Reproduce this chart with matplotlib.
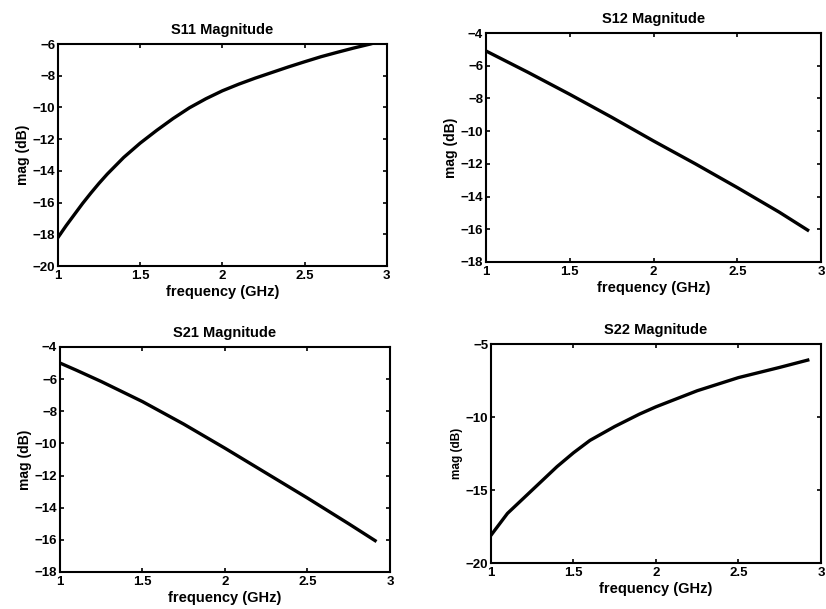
import matplotlib
matplotlib.use('Agg')
import matplotlib.pyplot as plt

plt.rcParams['font.family'] = ['Liberation Sans', 'DejaVu Sans']

# values
freq_s11 = [1.0, 1.05, 1.1, 1.15, 1.2, 1.25, 1.3, 1.4, 1.5, 1.6, 1.7, 1.8, 1.9,
            2.0, 2.1, 2.2, 2.3, 2.4, 2.5, 2.6, 2.7, 2.8, 2.9, 2.95]
mag_s11 = [-18.2, -17.45, -16.75, -16.05, -15.4, -14.78, -14.2, -13.15, -12.25,
           -11.45, -10.7, -10.02, -9.45, -8.95, -8.53, -8.15, -7.8, -7.45, -7.12,
           -6.8, -6.52, -6.25, -6.0, -5.85]

freq_s12 = [1.0, 1.25, 1.5, 1.75, 2.0, 2.25, 2.5, 2.75, 2.92]
mag_s12 = [-5.1, -6.4, -7.75, -9.15, -10.6, -12.0, -13.45, -14.95, -16.05]

freq_s21 = [1.0, 1.1, 1.25, 1.5, 1.75, 2.0, 2.25, 2.5, 2.75, 2.91]
mag_s21 = [-5.0, -5.45, -6.15, -7.4, -8.8, -10.3, -11.85, -13.4, -15.0, -16.05]

freq_s22 = [1.0, 1.1, 1.25, 1.4, 1.5, 1.6, 1.75, 1.9, 2.0, 2.25, 2.5, 2.75,
            2.92]
mag_s22 = [-18.1, -16.6, -15.0, -13.4, -12.45, -11.6, -10.65, -9.8, -9.3, -8.2,
           -7.3, -6.6, -6.1]

fig = plt.figure(figsize=(8.26, 6.09), dpi=100)


def panel(rect, x, y, title, ylim, yticks, ylabel_size=10):
    ax = fig.add_axes(rect)
    ax.plot(x, y, color='black', lw=2.4)
    ax.set_xlim(1, 3)
    ax.set_ylim(*ylim)
    ax.set_xticks([1, 1.5, 2, 2.5, 3])
    ax.set_xticklabels(['1', '1.5', '2', '2.5', '3'])
    ax.set_yticks(yticks)
    ax.set_yticklabels([str(t).replace('-', '\u2212') for t in yticks])
    ax.tick_params(direction='in', top=True, right=True, length=3, width=1.2,
                   labelsize=9.5, pad=2)
    ax.tick_params(axis='x', pad=3)
    for lbl in ax.get_xticklabels() + ax.get_yticklabels():
        lbl.set_fontweight('bold')
    for s in ax.spines.values():
        s.set_linewidth(1.5)
    ax.set_title(title, fontsize=10.5, fontweight='bold', pad=7)
    ax.set_xlabel('frequency (GHz)', fontsize=10.5, fontweight='bold', labelpad=2)
    ax.set_ylabel('mag (dB)', fontsize=ylabel_size, fontweight='bold', labelpad=2)
    return ax


panel([0.0702, 0.5632, 0.398, 0.3645], freq_s11, mag_s11, 'S11 Magnitude',
      (-20, -6), [-20, -18, -16, -14, -12, -10, -8, -6])
panel([0.5884, 0.5698, 0.4056, 0.376], freq_s12, mag_s12, 'S12 Magnitude',
      (-18, -4), [-18, -16, -14, -12, -10, -8, -6, -4])
panel([0.0726, 0.0608, 0.3995, 0.3695], freq_s21, mag_s21, 'S21 Magnitude',
      (-18, -4), [-18, -16, -14, -12, -10, -8, -6, -4])
panel([0.5944, 0.0755, 0.3995, 0.3596], freq_s22, mag_s22, 'S22 Magnitude',
      (-20, -5), [-20, -15, -10, -5], ylabel_size=8.5)

fig.savefig('out.png', dpi=100)
